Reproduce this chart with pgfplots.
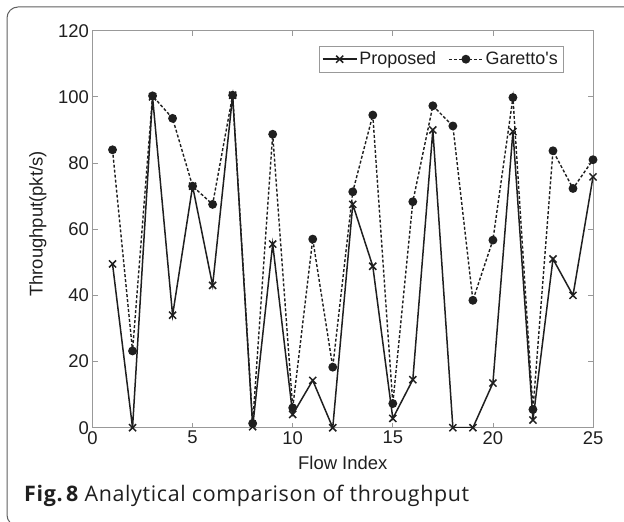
\documentclass[border=0pt]{standalone}
\usepackage{pgfplots}
\pgfplotsset{compat=1.18}
\usepackage{fontspec}
\setmainfont{Liberation Sans}
\newfontfamily\capfont{Open Sans}[LetterSpace=3]
\definecolor{boxgray}{gray}{0.6}
\definecolor{ink}{gray}{0.12}
\begin{document}
\begin{tikzpicture}[x=1bp,y=1bp]
\path[use as bounding box] (0,0) rectangle (624,522);
\begin{scope}
\clip (0,0) rectangle (624,522);
\draw[gray!75!black, line width=1bp, rounded corners=11bp] (7,-4) rectangle (660,515);
\end{scope}
\begin{axis}[
    at={(92.5bp,94.3bp)}, anchor=south west,
    width=500.5bp, height=397bp, scale only axis,
    xmin=0, xmax=25, ymin=0, ymax=120,
    xtick={0,5,...,25}, ytick={0,20,...,120},
    tick align=inside, major tick length=5bp,
    axis line style={boxgray, line width=0.8bp},
    tick style={boxgray, line width=0.8bp},
    ticklabel style={font=\fontsize{18.5}{20}\selectfont, text=ink},
    /pgf/number format/assume math mode=true,
    xlabel={Flow Index}, ylabel={Throughput(pkt/s)},
    label style={font=\fontsize{18.5}{20}\selectfont, text=ink},
    xlabel style={at={(axis description cs:0.5,0)}, anchor=center, yshift=-35.5bp},
    ylabel style={at={(axis description cs:-0.109,0.513)}, anchor=center},
    legend columns=2,
    legend style={at={(0.94,0.962)}, anchor=north east, draw=boxgray,
        font=\fontsize{18}{20}\selectfont, text=ink,
        inner xsep=3bp, inner ysep=4bp,
        /tikz/every even column/.append style={column sep=10bp}},
    legend image code/.code={\draw[mark repeat=2, mark phase=2, #1]
        plot coordinates {(0bp,0bp) (17bp,0bp) (34bp,0bp)};},
]
\addplot[ink, line width=1.5bp, mark=x, mark size=5bp,
    mark options={solid, line width=1.5bp}] coordinates {
    (1,49.5) (2,0) (3,100) (4,34) (5,73) (6,43) (7,100.5) (8,0.3)
    (9,55.5) (10,4) (11,14.3) (12,0) (13,67.5) (14,48.8) (15,2.8)
    (16,14.5) (17,90) (18,0) (19,0) (20,13.5) (21,89.5) (22,2.3)
    (23,51) (24,40) (25,75.8)};
\addplot[ink, line width=1.4bp, dash pattern=on 3bp off 2bp, mark=*, mark size=3.7bp,
    mark options={solid}] coordinates {
    (1,84) (2,23.2) (3,100.3) (4,93.5) (5,73) (6,67.5) (7,100.5) (8,1.3)
    (9,88.7) (10,6) (11,57) (12,18.3) (13,71.3) (14,94.5) (15,7.3)
    (16,68.3) (17,97.3) (18,91.2) (19,38.5) (20,56.7) (21,99.8) (22,5.5)
    (23,83.7) (24,72.3) (25,81)};
\legend{Proposed, Garetto\textquotesingle s}
\end{axis}
\node[anchor=base west, inner sep=0pt, text=ink] at (24,20)
    {\capfont\fontsize{21.5}{24}\selectfont\bfseries Fig.\,8 \mdseries Analytical comparison of throughput};
\end{tikzpicture}
\end{document}
